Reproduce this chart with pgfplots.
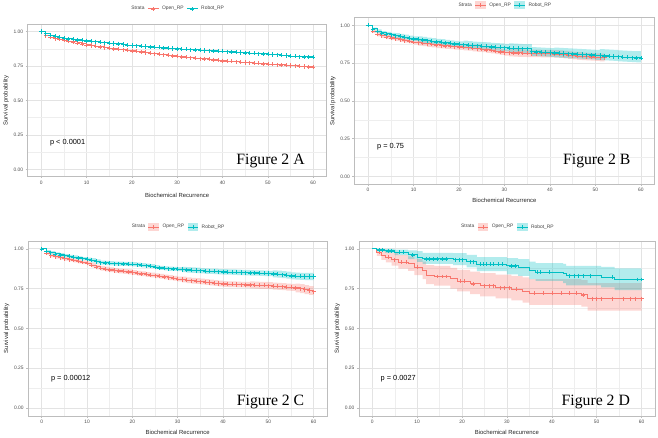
\documentclass[border=0pt]{standalone}
\usepackage{pgfplots}
\pgfplotsset{compat=1.18}
\usepackage{pgfplotstable}
\usepgfplotslibrary{fillbetween}
\usepackage{fontspec}
\setmainfont{Liberation Sans}
\newfontfamily\timesfont{Liberation Serif}
\definecolor{cO}{HTML}{F8766D}
\definecolor{cR}{HTML}{00BFC4}
\definecolor{gridc}{HTML}{E3E3E3}
\definecolor{gridm}{HTML}{EEEEEE}
\definecolor{framec}{HTML}{BDBDBD}
\definecolor{ticklab}{HTML}{4D4D4D}

\pgfplotsset{
 km/.style={
  scale only axis, anchor=south west,
  xmin=-3, xmax=63, ymin=-0.05, ymax=1.05,
  xtick={0,10,...,60}, ytick={0,0.25,0.5,0.75,1},
  yticklabels={0.00,0.25,0.50,0.75,1.00},
  minor xtick={5,15,...,55}, minor ytick={0.125,0.375,0.625,0.875},
  grid=both,
  major grid style={draw=gridc, line width=0.6bp},
  minor grid style={draw=gridm, line width=0.4bp},
  axis line style={draw=framec, line width=0.6bp},
  tick align=outside, major tick length=2bp, minor tick length=0pt,
  tick style={draw=framec, line width=0.4bp},
  xtick pos=left, ytick pos=left,
  /pgf/number format/assume math mode=true,
  tick label style={font=\fontsize{5}{6}\selectfont, text=ticklab},
  xticklabel style={yshift=1bp},
  yticklabel style={xshift=1bp},
  label style={font=\fontsize{6}{7}\selectfont, text=black!85},
  xlabel={Biochemical Recurrence},
  ylabel={Survival probability},
  ylabel style={yshift=-2bp},
  legend columns=-1,
  legend style={at={(0.5,1)}, anchor=center, draw=none, fill=none,
    font=\fontsize{5}{6}\selectfont, text=black!75, inner sep=0pt,
    /tikz/every even column/.append style={column sep=1bp},
    /tikz/every odd column/.append style={column sep=1bp}},
  legend cell align=left,
 },
 keyOline/.style={legend image code/.code={
   \draw[draw=cO, line width=0.8bp] (0bp,0bp)--(11bp,0bp);
   \draw[draw=cO, line width=0.7bp] (5.5bp,-2bp)--(5.5bp,2bp) (3.5bp,0bp)--(7.5bp,0bp);}},
 keyRline/.style={legend image code/.code={
   \draw[draw=cR, line width=0.8bp] (0bp,0bp)--(11bp,0bp);
   \draw[draw=cR, line width=0.7bp] (5.5bp,-2bp)--(5.5bp,2bp) (3.5bp,0bp)--(7.5bp,0bp);}},
 keyOband/.style={legend image code/.code={
   \path[fill=cO, fill opacity=0.3, draw=none] (0bp,-4bp) rectangle (11bp,4bp);
   \draw[draw=cO, line width=0.8bp] (0bp,0bp)--(11bp,0bp);
   \draw[draw=cO, line width=0.7bp] (5.5bp,-2bp)--(5.5bp,2bp) (3.5bp,0bp)--(7.5bp,0bp);}},
 keyRband/.style={legend image code/.code={
   \path[fill=cR, fill opacity=0.3, draw=none] (0bp,-4bp) rectangle (11bp,4bp);
   \draw[draw=cR, line width=0.8bp] (0bp,0bp)--(11bp,0bp);
   \draw[draw=cR, line width=0.7bp] (5.5bp,-2bp)--(5.5bp,2bp) (3.5bp,0bp)--(7.5bp,0bp);}},
 lineO/.style={cO, line width=1bp, const plot, mark=+, mark size=2.1bp, mark options={line width=0.55bp}},
 lineR/.style={cR, line width=1bp, const plot, mark=+, mark size=2.1bp, mark options={line width=0.55bp}},
}

% Panel A: time, Open_RP, Robot_RP
\pgfplotstableread{
t o r
0 1.000 1.000
1 0.972 0.985
2 0.958 0.975
3 0.950 0.966
4 0.943 0.958
5 0.936 0.952
6 0.930 0.947
7 0.925 0.943
8 0.918 0.939
9 0.911 0.936
10 0.904 0.933
11 0.899 0.930
12 0.894 0.926
13 0.889 0.923
14 0.884 0.920
15 0.880 0.916
16 0.875 0.913
17 0.871 0.910
18 0.868 0.906
19 0.864 0.902
20 0.860 0.899
21 0.856 0.897
22 0.852 0.894
23 0.848 0.892
24 0.844 0.889
25 0.840 0.887
26 0.836 0.885
27 0.832 0.882
28 0.828 0.880
29 0.824 0.877
30 0.820 0.875
31 0.817 0.873
32 0.813 0.871
33 0.810 0.869
34 0.807 0.867
35 0.804 0.865
36 0.801 0.863
37 0.798 0.862
38 0.795 0.860
39 0.791 0.858
40 0.788 0.856
41 0.786 0.854
42 0.784 0.852
43 0.781 0.850
44 0.779 0.848
45 0.776 0.846
46 0.774 0.844
47 0.771 0.842
48 0.769 0.840
49 0.766 0.838
50 0.764 0.836
51 0.762 0.834
52 0.760 0.832
53 0.758 0.829
54 0.756 0.826
55 0.754 0.822
56 0.752 0.820
57 0.749 0.818
58 0.746 0.817
59 0.743 0.816
60 0.740 0.815
}\tabA

% Panel B Robot_RP
\pgfplotstableread{
t s lo hi
0 1.000 1.000 1.000
1 0.976 0.968 0.984
2 0.962 0.950 0.974
3 0.950 0.938 0.962
4 0.944 0.932 0.956
5 0.938 0.926 0.950
6 0.932 0.916 0.948
7 0.927 0.911 0.943
8 0.922 0.906 0.938
9 0.916 0.900 0.932
10 0.911 0.895 0.927
11 0.907 0.887 0.927
12 0.903 0.883 0.923
13 0.899 0.879 0.919
14 0.895 0.875 0.915
15 0.891 0.871 0.911
16 0.888 0.868 0.908
17 0.884 0.864 0.904
18 0.881 0.861 0.901
19 0.877 0.857 0.897
20 0.874 0.854 0.894
21 0.872 0.848 0.898
22 0.869 0.845 0.895
23 0.867 0.843 0.893
24 0.865 0.841 0.891
25 0.863 0.839 0.889
26 0.861 0.837 0.887
27 0.858 0.834 0.884
28 0.856 0.832 0.882
29 0.854 0.830 0.880
30 0.852 0.828 0.878
31 0.850 0.822 0.880
32 0.849 0.821 0.879
33 0.847 0.819 0.877
34 0.846 0.818 0.876
35 0.845 0.817 0.875
36 0.826 0.798 0.856
37 0.824 0.796 0.854
38 0.823 0.795 0.853
39 0.821 0.793 0.851
40 0.820 0.792 0.850
41 0.818 0.788 0.853
42 0.816 0.786 0.851
43 0.814 0.784 0.849
44 0.812 0.782 0.847
45 0.811 0.781 0.846
46 0.809 0.779 0.844
47 0.807 0.777 0.842
48 0.806 0.776 0.841
49 0.804 0.774 0.839
50 0.802 0.772 0.837
51 0.800 0.770 0.843
52 0.798 0.768 0.841
53 0.796 0.766 0.839
54 0.794 0.764 0.837
55 0.792 0.762 0.835
56 0.790 0.760 0.833
57 0.788 0.758 0.831
58 0.786 0.756 0.829
59 0.784 0.755 0.829
60 0.782 0.755 0.830
}\tabBR

% Panel B Open_RP
\pgfplotstableread{
t s lo hi
0 1.000 1.000 1.000
1 0.960 0.950 0.970
2 0.942 0.927 0.957
3 0.932 0.917 0.947
4 0.924 0.909 0.939
5 0.917 0.902 0.932
6 0.912 0.897 0.927
7 0.906 0.891 0.921
8 0.900 0.885 0.915
9 0.895 0.880 0.910
10 0.889 0.874 0.904
11 0.886 0.866 0.906
12 0.882 0.862 0.902
13 0.878 0.858 0.898
14 0.874 0.854 0.894
15 0.870 0.850 0.890
16 0.867 0.847 0.887
17 0.864 0.844 0.884
18 0.862 0.842 0.882
19 0.860 0.840 0.880
20 0.858 0.838 0.878
21 0.855 0.835 0.875
22 0.852 0.832 0.872
23 0.848 0.828 0.868
24 0.845 0.825 0.865
25 0.842 0.822 0.862
26 0.838 0.818 0.858
27 0.834 0.814 0.854
28 0.830 0.810 0.850
29 0.825 0.805 0.845
30 0.820 0.800 0.840
31 0.819 0.794 0.844
32 0.818 0.793 0.843
33 0.817 0.792 0.842
34 0.816 0.791 0.841
35 0.815 0.790 0.840
36 0.814 0.789 0.839
37 0.814 0.789 0.839
38 0.813 0.788 0.838
39 0.813 0.788 0.838
40 0.813 0.788 0.838
41 0.811 0.786 0.836
42 0.809 0.784 0.834
43 0.806 0.781 0.831
44 0.803 0.778 0.828
45 0.800 0.775 0.825
46 0.797 0.772 0.822
47 0.795 0.770 0.820
48 0.793 0.768 0.818
49 0.791 0.766 0.816
50 0.789 0.764 0.814
51 0.787 0.762 0.812
52 0.786 0.761 0.811
}\tabBO

% Panel C Robot_RP
\pgfplotstableread{
t s lo hi
0 1.000 1.000 1.000
1 0.985 0.979 0.991
2 0.976 0.966 0.986
3 0.968 0.958 0.978
4 0.962 0.952 0.972
5 0.957 0.947 0.967
6 0.952 0.942 0.962
7 0.948 0.938 0.958
8 0.943 0.933 0.953
9 0.938 0.928 0.948
10 0.934 0.924 0.944
11 0.928 0.915 0.941
12 0.920 0.907 0.933
13 0.913 0.900 0.926
14 0.911 0.898 0.924
15 0.909 0.896 0.922
16 0.907 0.894 0.920
17 0.906 0.893 0.919
18 0.905 0.892 0.918
19 0.904 0.891 0.917
20 0.903 0.890 0.916
21 0.900 0.887 0.913
22 0.897 0.884 0.910
23 0.894 0.881 0.907
24 0.891 0.878 0.904
25 0.885 0.872 0.898
26 0.880 0.867 0.893
27 0.877 0.864 0.890
28 0.875 0.862 0.888
29 0.874 0.861 0.887
30 0.872 0.859 0.885
31 0.870 0.853 0.887
32 0.868 0.851 0.885
33 0.866 0.849 0.883
34 0.864 0.847 0.881
35 0.862 0.845 0.879
36 0.860 0.843 0.877
37 0.859 0.842 0.876
38 0.858 0.841 0.875
39 0.856 0.839 0.873
40 0.855 0.838 0.872
41 0.854 0.837 0.871
42 0.853 0.836 0.870
43 0.852 0.835 0.869
44 0.851 0.834 0.868
45 0.850 0.833 0.867
46 0.849 0.832 0.866
47 0.848 0.831 0.865
48 0.847 0.830 0.864
49 0.846 0.829 0.863
50 0.845 0.828 0.862
51 0.843 0.821 0.865
52 0.841 0.819 0.863
53 0.838 0.816 0.860
54 0.834 0.812 0.856
55 0.830 0.808 0.852
56 0.828 0.806 0.850
57 0.827 0.805 0.849
58 0.826 0.804 0.848
59 0.826 0.804 0.848
60 0.826 0.802 0.850
}\tabCR

% Panel C Open_RP
\pgfplotstableread{
t s lo hi
0 1.000 1.000 1.000
1 0.972 0.964 0.980
2 0.958 0.946 0.970
3 0.950 0.938 0.962
4 0.944 0.932 0.956
5 0.938 0.926 0.950
6 0.933 0.921 0.945
7 0.927 0.915 0.939
8 0.921 0.909 0.933
9 0.915 0.903 0.927
10 0.909 0.897 0.921
11 0.898 0.883 0.913
12 0.886 0.871 0.901
13 0.878 0.863 0.893
14 0.873 0.858 0.888
15 0.868 0.853 0.883
16 0.864 0.849 0.879
17 0.861 0.846 0.876
18 0.858 0.843 0.873
19 0.855 0.840 0.870
20 0.851 0.836 0.866
21 0.847 0.832 0.862
22 0.843 0.828 0.858
23 0.839 0.824 0.854
24 0.835 0.820 0.850
25 0.831 0.816 0.846
26 0.827 0.812 0.842
27 0.823 0.808 0.838
28 0.819 0.804 0.834
29 0.815 0.800 0.830
30 0.810 0.795 0.825
31 0.807 0.789 0.825
32 0.803 0.785 0.821
33 0.800 0.782 0.818
34 0.797 0.779 0.815
35 0.794 0.776 0.812
36 0.791 0.773 0.809
37 0.788 0.770 0.806
38 0.785 0.767 0.803
39 0.782 0.764 0.800
40 0.779 0.761 0.797
41 0.778 0.760 0.796
42 0.777 0.759 0.795
43 0.776 0.758 0.794
44 0.775 0.757 0.793
45 0.774 0.756 0.792
46 0.773 0.751 0.795
47 0.772 0.750 0.794
48 0.771 0.749 0.793
49 0.770 0.748 0.792
50 0.768 0.746 0.790
51 0.766 0.744 0.788
52 0.764 0.742 0.786
53 0.762 0.740 0.784
54 0.760 0.738 0.782
55 0.758 0.736 0.780
56 0.754 0.726 0.782
57 0.750 0.722 0.778
58 0.744 0.716 0.772
59 0.738 0.710 0.766
60 0.731 0.703 0.761
}\tabCO

% Panel D Robot_RP (event times)
\pgfplotstableread{
t s lo hi
0 1.000 1.000 1.000
1 0.993 0.985 1.000
2.8 0.987 0.975 1.000
5 0.977 0.960 0.995
8 0.962 0.935 0.990
10 0.948 0.918 0.985
11.2 0.937 0.905 0.975
18 0.932 0.898 0.972
21 0.919 0.883 0.962
23.3 0.902 0.860 0.948
30 0.893 0.840 0.941
32.5 0.884 0.830 0.935
35 0.866 0.810 0.920
36.4 0.854 0.798 0.910
42.5 0.846 0.785 0.905
43.2 0.832 0.770 0.893
51 0.822 0.758 0.886
54 0.807 0.740 0.877
60 0.807 0.740 0.877
}\tabDR

% Panel D Open_RP (event times)
\pgfplotstableread{
t s lo hi
0 1.000 1.000 1.000
1 0.977 0.955 0.995
2 0.958 0.930 0.988
3 0.946 0.915 0.982
4.3 0.931 0.895 0.972
5.8 0.915 0.875 0.960
8 0.905 0.862 0.952
9.4 0.884 0.835 0.935
11.2 0.863 0.810 0.920
12 0.835 0.778 0.898
13.8 0.826 0.768 0.892
17.4 0.811 0.750 0.880
18.9 0.795 0.733 0.868
21.8 0.780 0.715 0.856
24 0.768 0.702 0.847
27.5 0.756 0.688 0.838
31 0.745 0.676 0.830
33.5 0.733 0.662 0.820
35 0.720 0.648 0.810
46.6 0.710 0.637 0.803
48 0.687 0.612 0.785
60 0.687 0.612 0.785
}\tabDO

\begin{document}
\begin{tikzpicture}
\path (0bp,0bp) rectangle (658bp,437bp);

% ---------------- Panel A ----------------
\begin{axis}[km, at={(19.5bp,258.5bp)}, width=303bp, height=153.5bp,
  legend style={yshift=16bp}, xlabel style={yshift=-2.5bp}]
\addlegendimage{empty legend}\addlegendentry{Strata}
\addlegendimage{keyOline}\addlegendentry{Open\_RP}
\addlegendimage{keyRline}\addlegendentry{Robot\_RP}
\addplot[lineO, forget plot] table[x=t,y=o]{\tabA};
\addplot[lineR, forget plot] table[x=t,y=r]{\tabA};
\node[anchor=west, font=\fontsize{7.5}{9}\selectfont] at (axis cs:1.2,0.19) {p < 0.0001};
\node[anchor=center, font=\timesfont\fontsize{16}{18}\selectfont] at (axis cs:50.6,0.058) {Figure 2 A};
\end{axis}

% ---------------- Panel B ----------------
\begin{axis}[km, at={(350.5bp,250.6bp)}, width=304bp, height=168.4bp,
  legend style={yshift=12.7bp}, xlabel style={yshift=0.5bp}]
\addlegendimage{empty legend}\addlegendentry{Strata}
\addlegendimage{keyOband}\addlegendentry{Open\_RP}
\addlegendimage{keyRband}\addlegendentry{Robot\_RP}
\addplot[name path=BOhi, draw=none, const plot, forget plot] table[x=t,y=hi]{\tabBO};
\addplot[name path=BOlo, draw=none, const plot, forget plot] table[x=t,y=lo]{\tabBO};
\addplot[fill=cO, fill opacity=0.3, draw=none, forget plot] fill between[of=BOhi and BOlo];
\addplot[name path=BRhi, draw=none, const plot, forget plot] table[x=t,y=hi]{\tabBR};
\addplot[name path=BRlo, draw=none, const plot, forget plot] table[x=t,y=lo]{\tabBR};
\addplot[fill=cR, fill opacity=0.3, draw=none, forget plot] fill between[of=BRhi and BRlo];
\addplot[lineO, forget plot] table[x=t,y=s]{\tabBO};
\addplot[lineR, forget plot] table[x=t,y=s]{\tabBR};
\node[anchor=west, font=\fontsize{7.5}{9}\selectfont] at (axis cs:1.24,0.2) {p = 0.75};
\node[anchor=center, font=\timesfont\fontsize{16}{18}\selectfont] at (axis cs:50.3,0.1) {Figure 2 B};
\end{axis}

% ---------------- Panel C ----------------
\begin{axis}[km, at={(20bp,15.6bp)}, width=303bp, height=177.5bp,
  legend style={yshift=14bp}, xlabel style={yshift=0.5bp}]
\addlegendimage{empty legend}\addlegendentry{Strata}
\addlegendimage{keyOband}\addlegendentry{Open\_RP}
\addlegendimage{keyRband}\addlegendentry{Robot\_RP}
\addplot[name path=COhi, draw=none, const plot, forget plot] table[x=t,y=hi]{\tabCO};
\addplot[name path=COlo, draw=none, const plot, forget plot] table[x=t,y=lo]{\tabCO};
\addplot[fill=cO, fill opacity=0.3, draw=none, forget plot] fill between[of=COhi and COlo];
\addplot[name path=CRhi, draw=none, const plot, forget plot] table[x=t,y=hi]{\tabCR};
\addplot[name path=CRlo, draw=none, const plot, forget plot] table[x=t,y=lo]{\tabCR};
\addplot[fill=cR, fill opacity=0.3, draw=none, forget plot] fill between[of=CRhi and CRlo];
\addplot[lineO, forget plot] table[x=t,y=s]{\tabCO};
\addplot[lineR, forget plot] table[x=t,y=s]{\tabCR};
\node[anchor=west, font=\fontsize{7.5}{9}\selectfont] at (axis cs:1.3,0.186) {p = 0.00012};
\node[anchor=center, font=\timesfont\fontsize{16}{18}\selectfont] at (axis cs:50.5,0.037) {Figure 2 C};
\end{axis}

% ---------------- Panel D ----------------
\begin{axis}[km, at={(355bp,15.6bp)}, width=300bp, height=177.5bp,
  legend style={yshift=14bp}, xlabel style={yshift=0.5bp}]
\addlegendimage{empty legend}\addlegendentry{Strata}
\addlegendimage{keyOband}\addlegendentry{Open\_RP}
\addlegendimage{keyRband}\addlegendentry{Robot\_RP}
\addplot[name path=DOhi, draw=none, const plot, forget plot] table[x=t,y=hi]{\tabDO};
\addplot[name path=DOlo, draw=none, const plot, forget plot] table[x=t,y=lo]{\tabDO};
\addplot[fill=cO, fill opacity=0.3, draw=none, forget plot] fill between[of=DOhi and DOlo];
\addplot[name path=DRhi, draw=none, const plot, forget plot] table[x=t,y=hi]{\tabDR};
\addplot[name path=DRlo, draw=none, const plot, forget plot] table[x=t,y=lo]{\tabDR};
\addplot[fill=cR, fill opacity=0.3, draw=none, forget plot] fill between[of=DRhi and DRlo];
\addplot[cO, line width=1bp, const plot, forget plot] table[x=t,y=s]{\tabDO};
\addplot[cR, line width=1bp, const plot, forget plot] table[x=t,y=s]{\tabDR};
\addplot[cO, only marks, mark=+, mark size=2bp, mark options={line width=0.55bp}, forget plot] coordinates {
(1.5,0.977)(3.5,0.946)(4.8,0.931)(6.5,0.915)(7.5,0.915)(10,0.884)(14.5,0.826)(15.5,0.826)
(16.5,0.826)(19.5,0.795)(20.5,0.795)(22.5,0.780)(25,0.768)(26,0.768)(27,0.768)(28.5,0.756)
(29.5,0.756)(30.5,0.756)(32,0.745)(36,0.720)(38,0.720)(40,0.720)(42,0.720)(44,0.720)(45.5,0.720)
(47,0.710)(49,0.687)(50,0.687)(51,0.687)(53.5,0.687)(56,0.687)(57.5,0.687)(58.5,0.687)(60,0.687)};
\addplot[cR, only marks, mark=+, mark size=2bp, mark options={line width=0.55bp}, forget plot] coordinates {
(1.5,0.993)(2.2,0.993)(3.5,0.987)(4.3,0.987)(6,0.977)(6.8,0.977)(9,0.962)(12,0.937)(12.8,0.937)
(13.5,0.937)(14.5,0.937)(15.5,0.937)(16.5,0.937)(18.5,0.932)(19.3,0.932)(20,0.932)(21.8,0.919)
(22.5,0.919)(24,0.902)(24.8,0.902)(25.5,0.902)(26.3,0.902)(27,0.902)(28,0.902)(29,0.902)
(31,0.893)(31.8,0.893)(36.8,0.854)(37.5,0.854)(39.5,0.854)(44,0.832)(45,0.832)(46,0.832)
(47,0.832)(48.5,0.832)(53.5,0.822)(59,0.807)(60,0.807)};
\node[anchor=west, font=\fontsize{7.5}{9}\selectfont] at (axis cs:1.1,0.186) {p = 0.0027};
\node[anchor=center, font=\timesfont\fontsize{16}{18}\selectfont] at (axis cs:49.8,0.037) {Figure 2 D};
\end{axis}
\end{tikzpicture}
\end{document}
